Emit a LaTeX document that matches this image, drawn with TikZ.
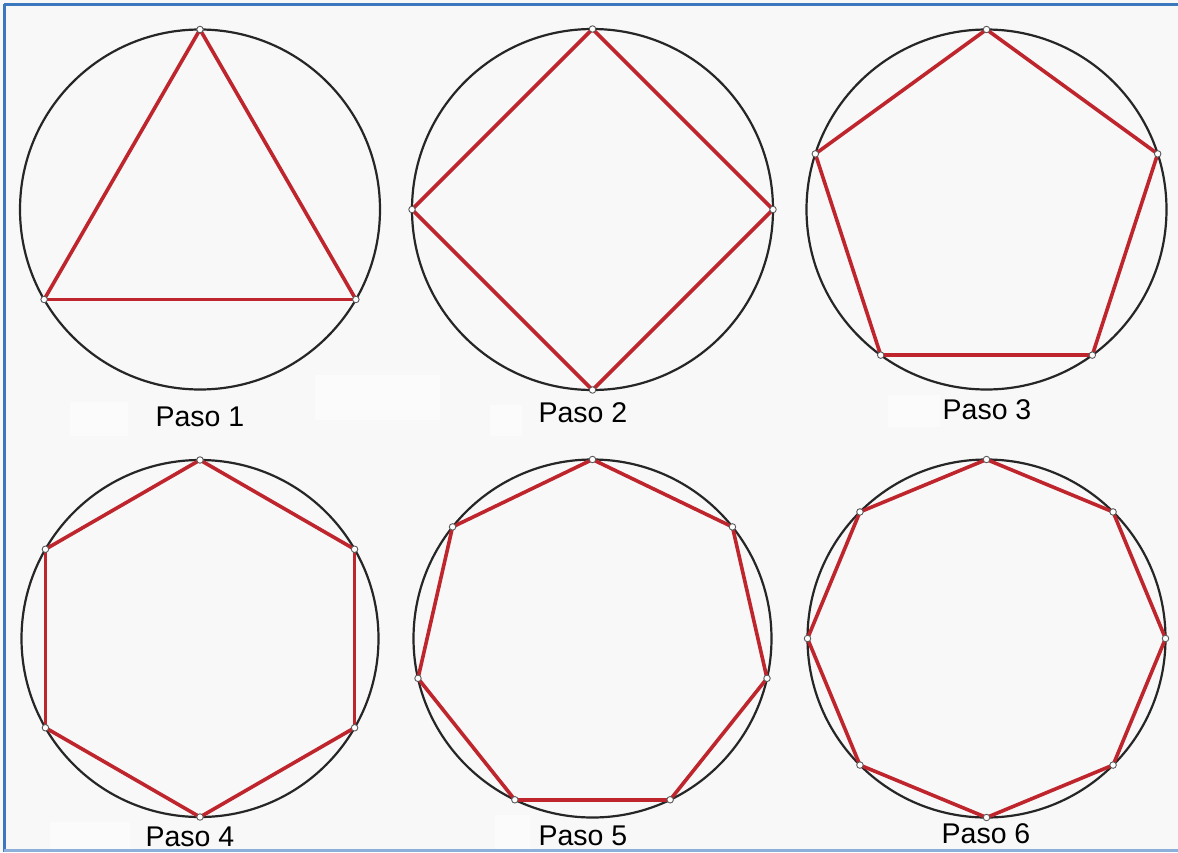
\documentclass[tikz,border=0pt]{standalone}
\usepackage{fontspec}
\setmainfont{Liberation Sans}
\definecolor{bgcol}{HTML}{F8F8F8}
\definecolor{polyred}{HTML}{BE252C}
\definecolor{circcol}{HTML}{262626}
\definecolor{frameblue}{HTML}{3C78BE}
\definecolor{frameblue2}{HTML}{8CB0DA}
\tikzset{
  circ/.style={draw=circcol, line width=2.2pt},
  edge/.style={draw=polyred, line width=3.6pt, line cap=round},
  dot/.style={circle, draw=gray!70!black, fill=white, line width=0.9pt, inner sep=0pt, minimum size=6.5pt},
  lbl/.style={font=\fontsize{28.5}{31}\selectfont, text=black, inner sep=0pt},
  patch/.style={fill=white, fill opacity=0.55, draw=none}
}
\begin{document}
\begin{tikzpicture}[x=1pt,y=-1pt]
\useasboundingbox (0,0) rectangle (1178,852);
\fill[bgcol] (0,0) rectangle (1178,852);
% faint white patches
\fill[patch] (70,402) rectangle (128,436);
\fill[patch] (315,375) rectangle (440,420);
\fill[patch] (490,405) rectangle (522,436);
\fill[patch] (888,395) rectangle (940,427);
\fill[patch] (50,822) rectangle (130,852);
\fill[patch] (495,815) rectangle (530,852);
% frame
\draw[frameblue, line width=3pt] (4,4) -- (1178,4);
\draw[frameblue, line width=3pt] (4,4) -- (4,852);
\draw[frameblue2, line width=2.5pt] (4,850.5) -- (1178,850.5);
% circles and polygons
\foreach \cx/\cy/\r/\n/\k in {200/209.5/180/3/1, 592.5/209.5/180.5/4/2, 986.5/209.5/180/5/3, 200/638.5/178.5/6/4, 592.5/638.5/179/7/5, 986.5/638.5/179/8/6}
{
  \node[circle, circ, minimum size=2*\r pt, inner sep=0pt] (c\k) at (\cx,\cy) {};
  \foreach \i in {1,...,\n} {
    \pgfmathsetmacro\ang{90+360*(\i-1)/\n}
    \coordinate (p\k-\i) at ({\cx+\r*cos(\ang)},{\cy-\r*sin(\ang)});
  }
  \foreach \i in {1,...,\n} {
    \pgfmathtruncatemacro\j{mod(\i,\n)+1}
    \draw[edge] (p\k-\i) -- (p\k-\j);
  }
  \foreach \i in {1,...,\n} {
    \node[dot] (d\k-\i) at (p\k-\i) {};
  }
}
% labels
\node[lbl] (l1) at (200,417) {Paso 1};
\node[lbl] (l2) at (583,413) {Paso 2};
\node[lbl] (l3) at (987,410) {Paso 3};
\node[lbl] (l4) at (190,837) {Paso 4};
\node[lbl] (l5) at (583,836) {Paso 5};
\node[lbl] (l6) at (986,834) {Paso 6};
\end{tikzpicture}
\end{document}
